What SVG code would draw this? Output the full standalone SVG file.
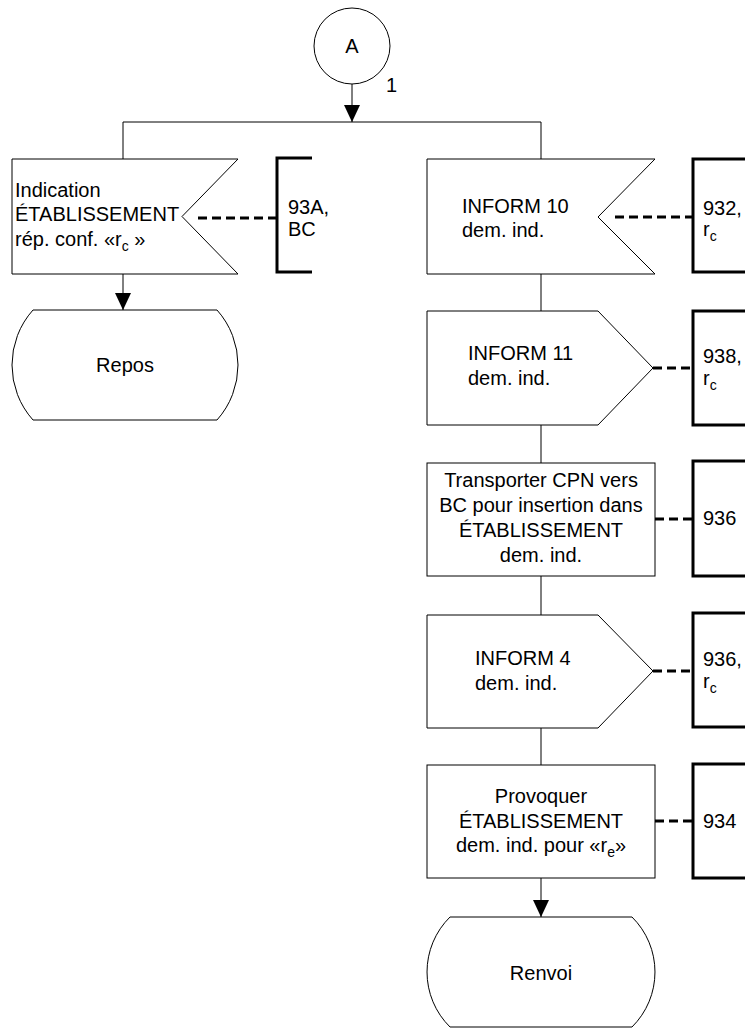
<svg xmlns="http://www.w3.org/2000/svg" width="745" height="1033" viewBox="0 0 745 1033">
<defs>
<style>
.s{fill:#fff;stroke:#000;stroke-width:1}
.l{fill:none;stroke:#000;stroke-width:1}
.d{fill:none;stroke:#000;stroke-width:3;stroke-dasharray:9 5}
.b{fill:none;stroke:#000;stroke-width:3}
text{font-family:"Liberation Sans",Arial,sans-serif;font-size:20px;fill:#000}
.m{text-anchor:middle}
.sub{font-size:14px}
</style>
<marker id="ah" markerWidth="18" markerHeight="16" refX="17" refY="8" orient="auto" markerUnits="userSpaceOnUse">
<path d="M0,0 L17,8 L0,16 Z" fill="#000"/>
</marker>
</defs>
<g id="connectors">
<line class="l" x1="352" y1="84" x2="352" y2="122" marker-end="url(#ah)"/>
<line class="l" x1="123" y1="122" x2="541" y2="122"/>
<line class="l" x1="123" y1="122" x2="123" y2="159"/>
<line class="l" x1="123" y1="274" x2="123" y2="310" marker-end="url(#ah)"/>
<line class="l" x1="541" y1="122" x2="541" y2="159"/>
<line class="l" x1="541" y1="274" x2="541" y2="311"/>
<line class="l" x1="541" y1="425" x2="541" y2="463"/>
<line class="l" x1="541" y1="576" x2="541" y2="615"/>
<line class="l" x1="541" y1="728" x2="541" y2="765"/>
<line class="l" x1="541" y1="878" x2="541" y2="917" marker-end="url(#ah)"/>
<line class="d" x1="198" y1="218" x2="276" y2="218"/>
<line class="d" x1="615" y1="217" x2="692" y2="217"/>
<line class="d" x1="653" y1="368" x2="692" y2="368"/>
<line class="d" x1="655" y1="519" x2="692" y2="519"/>
<line class="d" x1="653" y1="671" x2="692" y2="671"/>
<line class="d" x1="655" y1="821" x2="692" y2="821"/>
</g>
<g id="start">
<circle class="s" cx="352" cy="46" r="38"/>
<text class="m" x="352" y="53">A</text>
<text x="386" y="92">1</text>
</g>
<g id="in-indication">
<path class="s" d="M12,159 L238,159 L182,216.5 L238,274 L12,274 Z"/>
<text x="15" y="197">Indication</text>
<text x="15" y="221">ÉTABLISSEMENT</text>
<text x="15" y="246">rép. conf. «r<tspan class="sub" dy="5">c</tspan><tspan dy="-5"> »</tspan></text>
</g>
<g id="c-93A">
<path class="b" d="M312,158 L277,158 L277,272 L312,272"/>
<text x="288" y="214">93A,</text>
<text x="288" y="236">BC</text>
</g>
<g id="repos">
<path class="s" d="M33,310 L217,310 A82.5,82.5 0 0 1 217,420 L33,420 A82.5,82.5 0 0 1 33,310 Z"/>
<text class="m" x="125" y="372">Repos</text>
</g>
<g id="in-inform10">
<path class="s" d="M427,159 L655,159 L598,217 L655,274 L427,274 Z"/>
<text x="462" y="213">INFORM  10</text>
<text x="462" y="237">dem. ind.</text>
</g>
<g id="c-932">
<path class="b" d="M745,159 L693,159 L693,272 L745,272"/>
<text x="703" y="215">932,</text>
<text x="703" y="236">r<tspan class="sub" dy="5">c</tspan></text>
</g>
<g id="out-inform11">
<path class="s" d="M427,311 L598,311 L653,368 L598,425 L427,425 Z"/>
<text x="468" y="360">INFORM  11</text>
<text x="468" y="385">dem. ind.</text>
</g>
<g id="c-938">
<path class="b" d="M745,311 L693,311 L693,425 L745,425"/>
<text x="703" y="363">938,</text>
<text x="703" y="385">r<tspan class="sub" dy="5">c</tspan></text>
</g>
<g id="task-transporter">
<rect class="s" x="427" y="463" width="228" height="113"/>
<text class="m" x="541" y="487">Transporter CPN vers</text>
<text class="m" x="541" y="512">BC pour insertion dans</text>
<text class="m" x="541" y="537">ÉTABLISSEMENT</text>
<text class="m" x="541" y="562">dem. ind.</text>
</g>
<g id="c-936a">
<path class="b" d="M745,461 L693,461 L693,576 L745,576"/>
<text x="703" y="525">936</text>
</g>
<g id="out-inform4">
<path class="s" d="M427,615 L598,615 L653,671 L598,728 L427,728 Z"/>
<text x="475" y="665">INFORM  4</text>
<text x="475" y="690">dem. ind.</text>
</g>
<g id="c-936b">
<path class="b" d="M745,613 L693,613 L693,727 L745,727"/>
<text x="703" y="666">936,</text>
<text x="703" y="688">r<tspan class="sub" dy="5">c</tspan></text>
</g>
<g id="task-provoquer">
<rect class="s" x="427" y="765" width="228" height="113"/>
<text class="m" x="541" y="803">Provoquer</text>
<text class="m" x="541" y="828">ÉTABLISSEMENT</text>
<text class="m" x="541" y="852">dem. ind. pour «r<tspan class="sub" dy="5">e</tspan><tspan dy="-5">»</tspan></text>
</g>
<g id="c-934">
<path class="b" d="M745,764 L693,764 L693,878 L745,878"/>
<text x="703" y="828">934</text>
</g>
<g id="renvoi">
<path class="s" d="M450,917 L632,917 A77.3,77.3 0 0 1 632,1027 L450,1027 A77.3,77.3 0 0 1 450,917 Z"/>
<text class="m" x="541" y="980">Renvoi</text>
</g>
</svg>
